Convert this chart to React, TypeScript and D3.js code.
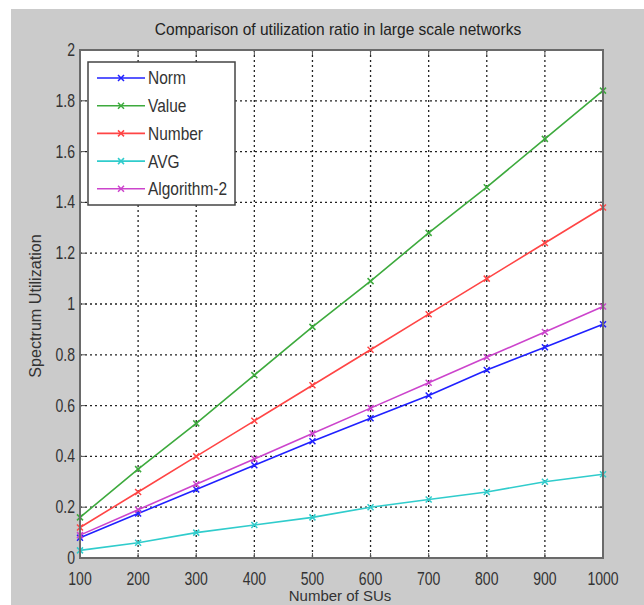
import React from "react";
import * as d3 from "d3";

const xValues = [100, 200, 300, 400, 500, 600, 700, 800, 900, 1000];
const normValues = [0.08, 0.175, 0.27, 0.365, 0.46, 0.55, 0.64, 0.74, 0.83, 0.92];
const valueValues = [0.16, 0.35, 0.53, 0.72, 0.91, 1.09, 1.28, 1.46, 1.65, 1.84];
const numberValues = [0.12, 0.26, 0.4, 0.54, 0.68, 0.82, 0.96, 1.1, 1.24, 1.38];
const avgValues = [0.03, 0.06, 0.1, 0.13, 0.16, 0.2, 0.23, 0.26, 0.3, 0.33];
const algValues = [0.09, 0.19, 0.29, 0.39, 0.49, 0.59, 0.69, 0.79, 0.89, 0.99];
const seriesNames = ["Norm", "Value", "Number", "AVG", "Algorithm-2"];
const yTicks = [0, 0.2, 0.4, 0.6, 0.8, 1, 1.2, 1.4, 1.6, 1.8, 2];

const colors = ["#2020ff", "#3daa3d", "#ff4545", "#30cccc", "#cc44cc"];

const series = [normValues, valueValues, numberValues, avgValues, algValues];

// squeeze text horizontally around its anchor x
const squeeze = (ax: number, s: number) =>
    `translate(${ax},0) scale(${s},1) translate(${-ax},0)`;

const App = () => {
    const width = 644;
    const height = 605;
    const margin = { left: 80, right: 41, top: 50, bottom: 47 };

    const x = d3
        .scaleLinear()
        .domain([100, 1000])
        .range([margin.left, width - margin.right]);
    const y = d3
        .scaleLinear()
        .domain([0, 2])
        .range([height - margin.bottom, margin.top]);

    const line = d3
        .line<number>()
        .x((d, i) => x(xValues[i]))
        .y(d => y(d));

    const font = "'Liberation Sans', Arial, sans-serif";
    const x0 = x(100);
    const x1 = x(1000);
    const y0 = y(0);
    const y1 = y(2);

    const cross = (cx: number, cy: number) =>
        `M${cx - 3},${cy - 3}L${cx + 3},${cy + 3}M${cx - 3},${cy + 3}L${cx + 3},${cy - 3}`;

    return (
        <svg
            width={width}
            height={height}
            style={{ position: "absolute", left: 0, top: 0 }}
        >
            <rect x={0} y={0} width={width} height={height} fill="#fff" />
            <rect x={11} y={9} width={width - 11} height={height - 9} fill="#cbcbcb" />
            <rect x={x0} y={y1} width={x1 - x0} height={y0 - y1} fill="#fff" />

            {/* grid */}
            {xValues.slice(1, -1).map(v => (
                <line
                    key={"gx" + v}
                    x1={x(v)}
                    x2={x(v)}
                    y1={y1}
                    y2={y0}
                    stroke="#222"
                    strokeWidth={1.3}
                    strokeDasharray="2,3"
                />
            ))}
            {yTicks.slice(1, -1).map(v => (
                <line
                    key={"gy" + v}
                    x1={x0}
                    x2={x1}
                    y1={y(v)}
                    y2={y(v)}
                    stroke="#222"
                    strokeWidth={1.3}
                    strokeDasharray="2,3"
                />
            ))}

            {/* ticks inside */}
            {xValues.map(v => (
                <g key={"tx" + v} stroke="#555" strokeWidth={1}>
                    <line x1={x(v)} x2={x(v)} y1={y0} y2={y0 - 5} />
                    <line x1={x(v)} x2={x(v)} y1={y1} y2={y1 + 5} />
                </g>
            ))}
            {yTicks.map(v => (
                <g key={"ty" + v} stroke="#555" strokeWidth={1}>
                    <line x1={x0} x2={x0 + 5} y1={y(v)} y2={y(v)} />
                    <line x1={x1} x2={x1 - 5} y1={y(v)} y2={y(v)} />
                </g>
            ))}

            {/* series */}
            {series.map((s, si) => (
                <g key={seriesNames[si]}>
                    <path
                        d={line(s) || ""}
                        fill="none"
                        stroke={colors[si]}
                        strokeWidth={1.6}
                    />
                    {s.map((v, i) => (
                        <path
                            key={i}
                            d={cross(x(xValues[i]), y(v))}
                            stroke={colors[si]}
                            strokeWidth={1.5}
                        />
                    ))}
                </g>
            ))}

            {/* axes box */}
            <rect
                x={x0}
                y={y1}
                width={x1 - x0}
                height={y0 - y1}
                fill="none"
                stroke="#6a6a6a"
                strokeWidth={2}
            />

            {/* tick labels */}
            {yTicks.map(v => (
                <text
                    key={"ly" + v}
                    x={x0 - 5}
                    y={y(v) + 6}
                    textAnchor="end"
                    fontFamily={font}
                    fontSize={18}
                    fill="#333"
                    transform={squeeze(x0 - 5, 0.78)}
                >
                    {v}
                </text>
            ))}
            {xValues.map(v => (
                <text
                    key={"lx" + v}
                    x={x(v)}
                    y={y0 + 27}
                    textAnchor="middle"
                    fontFamily={font}
                    fontSize={18}
                    fill="#333"
                    transform={squeeze(x(v), 0.78)}
                >
                    {v}
                </text>
            ))}

            {/* title and axis labels */}
            <text
                x={338}
                y={35}
                textAnchor="middle"
                fontFamily={font}
                fontSize={16}
                fill="#222"
                transform={squeeze(338, 0.97)}
            >
                Comparison of utilization ratio in large scale networks
            </text>
            <text
                x={340}
                y={601}
                textAnchor="middle"
                fontFamily={font}
                fontSize={15}
                fill="#333"
            >
                Number of SUs
            </text>
            <text
                transform={`translate(41,306) rotate(-90) scale(0.95,1)`}
                textAnchor="middle"
                fontFamily={font}
                fontSize={17}
                fill="#333"
            >
                Spectrum Utilization
            </text>

            {/* legend */}
            <rect x={88} y={62} width={147} height={143} fill="#fff" stroke="#444" strokeWidth={1.5} />
            {seriesNames.map((name, i) => {
                const ly = 78 + i * 27.7;
                return (
                    <g key={"lg" + name}>
                        <line x1={97} x2={145} y1={ly} y2={ly} stroke={colors[i]} strokeWidth={1.6} />
                        <path d={cross(121, ly)} stroke={colors[i]} strokeWidth={1.5} />
                        <text
                            x={148}
                            y={ly + 6.5}
                            fontFamily={font}
                            fontSize={18}
                            fill="#333"
                            transform={squeeze(148, 0.86)}
                        >
                            {name}
                        </text>
                    </g>
                );
            })}
        </svg>
    );
};

export default App;
